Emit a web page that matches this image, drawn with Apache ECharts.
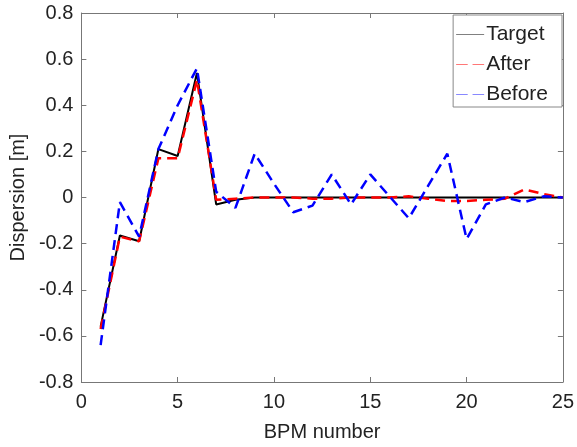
<!DOCTYPE html>
<html><head><meta charset="utf-8">
<script src="https://cdn.jsdelivr.net/npm/echarts@6/dist/echarts.min.js"></script>
<style>html,body{margin:0;padding:0;background:#fff}#c{width:577px;height:447px}</style>
</head><body><div id="c"></div>
<script>
const bpm = [1,2,3,4,5,6,7,8,9,10,11,12,13,14,15,16,17,18,19,20,21,22,23,24,25];
const target = [-0.56,-0.165,-0.19,0.21,0.18,0.54,-0.03,-0.01,0,0,0,0,0,0,0,0,0,0,0,0,0,0,0,0,0];
const after = [-0.57,-0.17,-0.19,0.17,0.17,0.51,-0.01,-0.005,0,0,0,-0.005,-0.005,0,0,0,0.005,-0.005,-0.015,-0.015,-0.01,-0.005,0.035,0.015,0];
const before = [-0.64,-0.02,-0.17,0.21,0.40,0.56,0.025,-0.045,0.19,0.06,-0.064,-0.035,0.10,-0.03,0.10,0.005,-0.09,0.05,0.19,-0.18,-0.03,0,-0.02,0.005,0];
const xTicks = [0,5,10,15,20,25];
const yTicks = [-0.8,-0.6,-0.4,-0.2,0,0.2,0.4,0.6,0.8];

const font = 'Liberation Sans, Arial, Helvetica, sans-serif';
const pair = a => bpm.map((x,i)=>[x,a[i]]);
const chart = echarts.init(document.getElementById('c'), null, {renderer:'canvas'});
const axLine = {show:true, onZero:false, lineStyle:{color:'#777', width:1}};
const tick = {show:true, inside:true, length:5, lineStyle:{color:'#777'}};
const solidIcon = 'path://M0,0h30v1h-30z';
const dashIcon = 'path://M0,0h12v1h-12zM17,0h12v1h-12z';
chart.setOption({
  animation:false,
  grid:{left:81, right:11, top:13, bottom:59},
  xAxis:[
    {type:'value', min:0, max:25, interval:5, axisLine:axLine, axisTick:tick, splitLine:{show:false},
     axisLabel:{color:'#222', fontSize:20, fontFamily:font, margin:10, formatter:v=>xTicks.includes(v)?String(v):''},
     name:'BPM number', nameLocation:'middle', nameGap:40, nameTextStyle:{color:'#222', fontSize:20, fontFamily:font}},
    {type:'value', min:0, max:25, interval:5, position:'top', axisLine:axLine, axisTick:tick, axisLabel:{show:false}, splitLine:{show:false}}
  ],
  yAxis:[
    {type:'value', min:-0.8, max:0.8, interval:0.2, axisLine:axLine, axisTick:tick, splitLine:{show:false},
     axisLabel:{color:'#222', fontSize:20, fontFamily:font, margin:8, formatter:v=>{const r=Math.round(v*10)/10; return yTicks.some(t=>Math.abs(t-r)<1e-9)? (r===0?'0':r.toFixed(1)) : '';}},
     name:'Dispersion [m]', nameLocation:'middle', nameGap:52, nameTextStyle:{color:'#222', fontSize:20, fontFamily:font}},
    {type:'value', min:-0.8, max:0.8, interval:0.2, position:'right', axisLine:axLine, axisTick:tick, axisLabel:{show:false}, splitLine:{show:false}}
  ],
  legend:{
    orient:'vertical', right:15, top:15, itemGap:9, itemWidth:28, itemHeight:1.2,
    padding:[9,14,2,3], borderColor:'#888', borderWidth:1, backgroundColor:'#fff',
    textStyle:{color:'#222', fontSize:21, fontFamily:font, padding:[0,0,0,-3]},
    data:[
      {name:'Target', icon:solidIcon, itemStyle:{color:'#777'}},
      {name:'After', icon:dashIcon, itemStyle:{color:'#f77'}},
      {name:'Before', icon:dashIcon, itemStyle:{color:'#88f'}}
    ]
  },
  series:[
    {name:'Target', type:'line', data:pair(target), symbol:'none', lineStyle:{color:'#000', width:2}, itemStyle:{color:'#000'}, z:2},
    {name:'After', type:'line', data:pair(after), symbol:'none', lineStyle:{color:'#f00', width:2.5, type:[10,6]}, itemStyle:{color:'#f00'}, z:3},
    {name:'Before', type:'line', data:pair(before), symbol:'none', lineStyle:{color:'#00f', width:2.5, type:[10,6]}, itemStyle:{color:'#00f'}, z:4}
  ]
});
</script></body></html>
